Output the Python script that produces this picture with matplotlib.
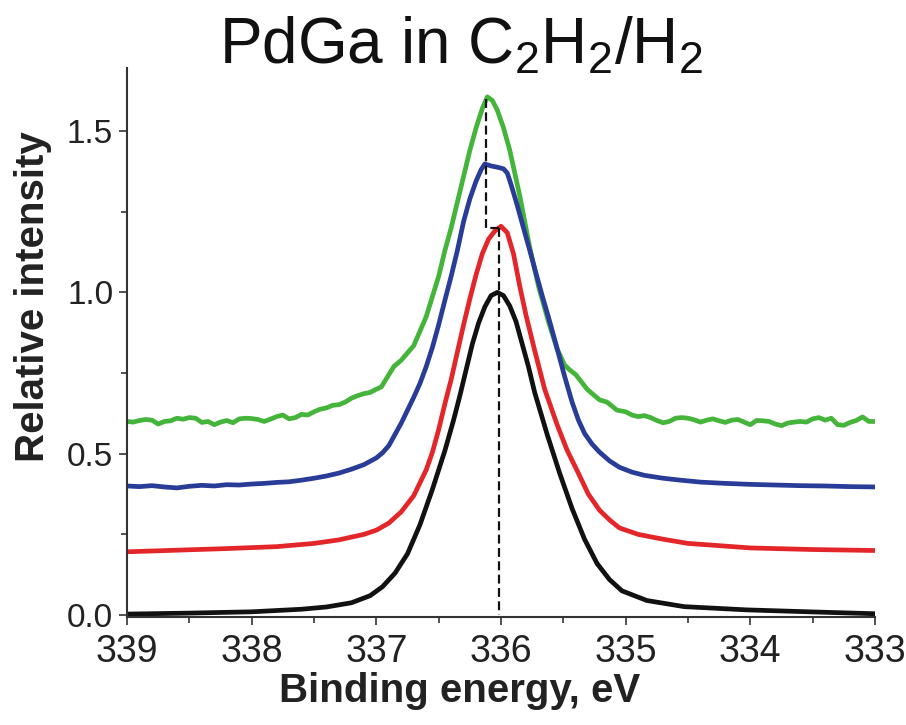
import numpy as np
import matplotlib
matplotlib.use('Agg')
import matplotlib.pyplot as plt
from matplotlib import font_manager
from matplotlib.ticker import MultipleLocator

# binding energy (eV) / relative intensity
black_e = [339.0, 338.5, 338.0, 337.6, 337.4, 337.2, 337.05, 336.95, 336.85,
           336.75, 336.65, 336.55, 336.45, 336.38, 336.33, 336.28, 336.23,
           336.18, 336.13, 336.08, 336.03, 335.98, 335.93, 335.88, 335.83,
           335.78, 335.73, 335.68, 335.63, 335.53, 335.43, 335.33, 335.23,
           335.13, 335.03, 334.83, 334.53, 334.03, 333.53, 333.0]
black_i = [0.003, 0.006, 0.010, 0.018, 0.025, 0.038, 0.060, 0.088, 0.130,
           0.190, 0.280, 0.390, 0.510, 0.605, 0.680, 0.760, 0.840,
           0.905, 0.955, 0.990, 1.000, 0.990, 0.958, 0.910, 0.840,
           0.770, 0.690, 0.625, 0.560, 0.440, 0.330, 0.235, 0.160,
           0.110, 0.075, 0.045, 0.026, 0.016, 0.010, 0.004]

red_e = [339.0, 338.2, 337.8, 337.5, 337.3, 337.1, 337.0, 336.9, 336.8,
         336.7, 336.65, 336.6, 336.55, 336.5, 336.45, 336.4, 336.35, 336.3,
         336.25, 336.2, 336.15, 336.1, 336.05, 336.0, 335.95, 335.9, 335.85,
         335.8, 335.73, 335.65, 335.55, 335.47, 335.38, 335.3, 335.21,
         335.13, 335.05, 334.9, 334.7, 334.5, 334.0, 333.5, 333.0]
red_i = [0.196, 0.206, 0.212, 0.222, 0.233, 0.250, 0.263, 0.285, 0.320,
         0.370, 0.410, 0.450, 0.505, 0.575, 0.655, 0.730, 0.815, 0.900,
         0.980, 1.055, 1.120, 1.165, 1.190, 1.205, 1.185, 1.120, 1.020,
         0.930, 0.820, 0.700, 0.590, 0.511, 0.440, 0.375, 0.325,
         0.295, 0.270, 0.250, 0.235, 0.222, 0.208, 0.203, 0.200]

blue_e = [339.0, 338.9, 338.8, 338.7, 338.6, 338.5, 338.4, 338.3, 338.2,
          338.1, 338.0, 337.9, 337.8, 337.7, 337.6, 337.5, 337.4, 337.3,
          337.2, 337.1, 337.0, 336.95, 336.9, 336.85, 336.8, 336.75, 336.7,
          336.65, 336.6, 336.55, 336.5, 336.45, 336.4, 336.35, 336.3, 336.25,
          336.2, 336.16, 336.13, 336.08, 336.03, 335.98, 335.95, 335.92,
          335.87, 335.82, 335.77, 335.72, 335.67, 335.62, 335.56, 335.49,
          335.43, 335.38, 335.33, 335.27, 335.21, 335.13, 335.05, 334.95,
          334.85, 334.7, 334.56, 334.4, 334.2, 334.0, 333.8, 333.6, 333.4,
          333.2, 333.0]
blue_i = [0.400, 0.398, 0.401, 0.397, 0.394, 0.399, 0.402, 0.400, 0.404,
          0.403, 0.406, 0.408, 0.411, 0.413, 0.418, 0.424, 0.431, 0.440,
          0.452, 0.466, 0.487, 0.503, 0.525, 0.560, 0.595, 0.635, 0.675,
          0.718, 0.770, 0.830, 0.900, 0.976, 1.050, 1.130, 1.220, 1.290,
          1.345, 1.380, 1.398, 1.392, 1.388, 1.383, 1.370, 1.335,
          1.270, 1.200, 1.131, 1.060, 0.990, 0.924, 0.840, 0.740,
          0.660, 0.605, 0.563, 0.530, 0.505, 0.478, 0.458, 0.443,
          0.433, 0.424, 0.418, 0.412, 0.408, 0.405, 0.403, 0.401, 0.400,
          0.398, 0.397]

green_e = [339.0, 338.95, 338.9, 338.85, 338.8, 338.75, 338.7, 338.65, 338.6,
           338.55, 338.5, 338.45, 338.4, 338.35, 338.3, 338.25, 338.2, 338.15,
           338.1, 338.05, 338.0, 337.95, 337.9, 337.85, 337.8, 337.75, 337.7,
           337.65, 337.6, 337.55, 337.5, 337.45, 337.4, 337.35, 337.3, 337.25,
           337.2, 337.15, 337.1, 337.05, 337.0, 336.96, 336.9, 336.86, 336.8,
           336.7, 336.6, 336.5, 336.45, 336.4, 336.35, 336.3, 336.25, 336.2,
           336.15, 336.11, 336.07, 336.03, 335.98, 335.93, 335.85, 335.77,
           335.7, 335.62, 335.55, 335.49, 335.45, 335.4, 335.31, 335.25,
           335.21, 335.15, 335.07, 335.0, 334.95, 334.9, 334.85, 334.8, 334.75,
           334.7, 334.65, 334.6, 334.55, 334.5, 334.45, 334.4, 334.35, 334.3,
           334.25, 334.2, 334.15, 334.1, 334.05, 334.0, 333.95, 333.9, 333.85,
           333.8, 333.75, 333.7, 333.65, 333.6, 333.55, 333.5, 333.45, 333.4,
           333.35, 333.3, 333.25, 333.2, 333.15, 333.1, 333.05, 333.0]
green_i = [0.600, 0.598, 0.603, 0.606, 0.604, 0.592, 0.600, 0.602, 0.610,
           0.607, 0.612, 0.610, 0.597, 0.600, 0.590, 0.598, 0.603, 0.596,
           0.608, 0.610, 0.609, 0.606, 0.600, 0.607, 0.615, 0.620, 0.608,
           0.612, 0.622, 0.620, 0.630, 0.638, 0.642, 0.650, 0.652, 0.660,
           0.672, 0.680, 0.686, 0.690, 0.700, 0.707, 0.745, 0.770, 0.790,
           0.835, 0.925, 1.050, 1.130, 1.200, 1.280, 1.360, 1.440, 1.510,
           1.570, 1.606, 1.595, 1.565, 1.510, 1.441, 1.300, 1.140,
           1.020, 0.910, 0.825, 0.775, 0.760, 0.745, 0.700, 0.680,
           0.667, 0.660, 0.635, 0.630, 0.620, 0.615, 0.618, 0.612, 0.603,
           0.596, 0.600, 0.610, 0.612, 0.610, 0.605, 0.598, 0.604, 0.608,
           0.602, 0.597, 0.604, 0.606, 0.598, 0.590, 0.603, 0.602, 0.600,
           0.592, 0.587, 0.595, 0.598, 0.600, 0.598, 0.608, 0.612, 0.604,
           0.610, 0.590, 0.588, 0.597, 0.603, 0.614, 0.600, 0.600]

# guide lines marking the peak shift
shift_top_e = 336.12
shift_bottom_e = 336.02
shift_levels = [1.6, 1.2]

title = 'PdGa in C$_2$H$_2$/H$_2$'
x_label = 'Binding energy, eV'
y_label = 'Relative intensity'


def has_font(name):
    try:
        font_manager.findfont(name, fallback_to_default=False)
        return True
    except Exception:
        return False


base_font = 'Liberation Sans'
narrow_font = 'Liberation Sans Narrow' if has_font('Liberation Sans Narrow') else base_font

plt.rcParams['font.family'] = base_font
plt.rcParams['mathtext.fontset'] = 'custom'
plt.rcParams['mathtext.rm'] = base_font
plt.rcParams['mathtext.it'] = base_font

fig = plt.figure(figsize=(9.06, 7.25), dpi=100)
axes = fig.add_axes([0.1402, 0.149, 0.8256, 0.757])

line_kw = dict(lw=3.4, solid_joinstyle='round', solid_capstyle='round')
axes.plot(green_e, green_i, color='#44b43a', **line_kw)
axes.plot(blue_e, blue_i, color='#283c98', **line_kw)
axes.plot(red_e, red_i, color='#e3262a', **line_kw)
axes.plot(black_e, black_i, color='#111111', **line_kw)

dash = dict(color='#111111', lw=1.6, dashes=(4, 2), zorder=5)
axes.plot([shift_top_e, shift_top_e, shift_bottom_e],
          [shift_levels[0], shift_levels[1], shift_levels[1]], **dash)
axes.plot([shift_bottom_e, shift_bottom_e], [shift_levels[1], 0.0], **dash)

axes.set_xlim(339, 333)
axes.set_ylim(-0.006, 1.695)
axes.xaxis.set_major_locator(MultipleLocator(1))
axes.xaxis.set_minor_locator(MultipleLocator(0.5))
axes.yaxis.set_major_locator(MultipleLocator(0.5))
axes.yaxis.set_minor_locator(MultipleLocator(0.25))
axes.yaxis.set_major_formatter(plt.FormatStrFormatter('%.1f'))
axes.xaxis.set_major_formatter(plt.FormatStrFormatter('%d'))

for side in ['top', 'right']:
    axes.spines[side].set_visible(False)
for side in ['left', 'bottom']:
    axes.spines[side].set_linewidth(1.5)
    axes.spines[side].set_color('#333333')

axes.tick_params(which='major', length=6, width=1.2, color='#333333')
axes.tick_params(which='minor', length=4, width=1.2, color='#333333')
axes.tick_params(axis='x', which='major', pad=6, labelsize=27,
                 labelcolor='#222222')
axes.tick_params(axis='y', which='major', pad=4, labelsize=24,
                 labelcolor='#222222')
for lbl in axes.get_xticklabels():
    lbl.set_family(narrow_font)

axes.set_xlabel(x_label, fontsize=29, fontweight='bold', color='#222222')
axes.set_ylabel(y_label, fontsize=29, fontweight='bold', color='#222222')
axes.xaxis.set_label_coords(0.444, -0.100)
axes.yaxis.set_label_coords(-0.100, 0.583)

fig.text(461 / 906, 1 - 64 / 725, title, fontsize=46, ha='center',
         va='baseline', color='#111111')

fig.savefig('out.png', dpi=100)
